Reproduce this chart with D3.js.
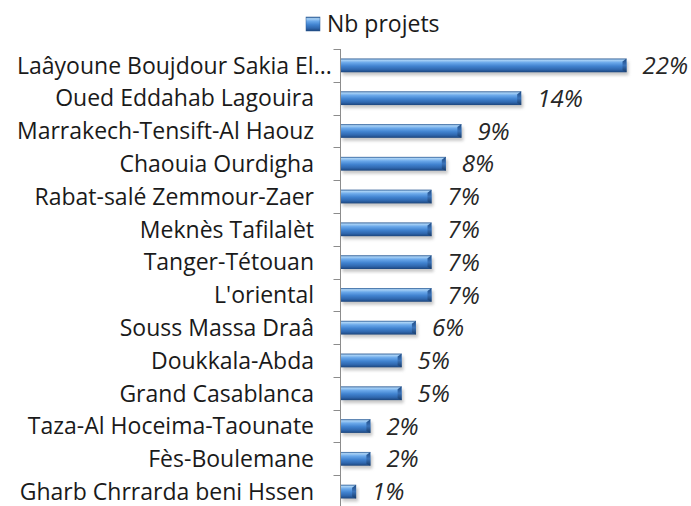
<!DOCTYPE html>
<html lang="fr">
<head>
<meta charset="UTF-8">
<script src="https://cdn.jsdelivr.net/npm/d3@7"></script>
<title>Nb projets</title>
<style>
    body { margin: 0; background: #fff; }
    text { font-family: "Open Sans", Lato, sans-serif; }
</style>
</head>
<body>
<div id="chart"></div>
<script>
// ---------- data ----------
const regions = [
    "Laâyoune Boujdour Sakia El...",
    "Oued Eddahab Lagouira",
    "Marrakech-Tensift-Al Haouz",
    "Chaouia Ourdigha",
    "Rabat-salé Zemmour-Zaer",
    "Meknès Tafilalèt",
    "Tanger-Tétouan",
    "L'oriental",
    "Souss Massa Draâ",
    "Doukkala-Abda",
    "Grand Casablanca",
    "Taza-Al Hoceima-Taounate",
    "Fès-Boulemane",
    "Gharb Chrrarda beni Hssen"
];
const nbProjets = [0.22, 0.139, 0.093, 0.081, 0.07, 0.07, 0.07, 0.07, 0.058, 0.047, 0.047, 0.023, 0.023, 0.012];
const seriesName = "Nb projets";

const W = 691, H = 506;
const axisX = 340.5;
const labelRight = 314;   // right edge of category labels
const labelMinLeft = 17;  // labels never start left of this

const svg = d3.select("#chart").append("svg")
    .attr("width", W)
    .attr("height", H);

// gradients for the "cylinder" look
const defs = svg.append("defs");
const grad = defs.append("linearGradient")
    .attr("id", "barGrad")
    .attr("x1", 0).attr("y1", 0).attr("x2", 0).attr("y2", 1);
[["0%", "#2b5a93"], ["12%", "#a9d2f6"], ["30%", "#6aa8ea"], ["55%", "#4183d0"],
 ["80%", "#2f67ae"], ["100%", "#1c457c"]].forEach(s => {
    grad.append("stop").attr("offset", s[0]).attr("stop-color", s[1]);
});
const capGrad = defs.append("linearGradient")
    .attr("id", "capGrad")
    .attr("x1", 0).attr("y1", 0).attr("x2", 0).attr("y2", 1);
[["0%", "#1f4a82"], ["50%", "#3a72b8"], ["100%", "#163a68"]].forEach(s => {
    capGrad.append("stop").attr("offset", s[0]).attr("stop-color", s[1]);
});
const blur = defs.append("filter").attr("id", "shadow")
    .attr("x", "-10%").attr("y", "-50%").attr("width", "120%").attr("height", "200%");
blur.append("feGaussianBlur").attr("stdDeviation", 1.6);

// ---------- scales ----------
const x = d3.scaleLinear()
    .domain([0, 0.25])
    .range([axisX, axisX + 325]);

const y = d3.scaleBand()
    .domain(regions)
    .range([49, 508])
    .paddingInner(0.58)
    .paddingOuter(0.29);

const yEdge = d3.scaleBand()
    .domain(regions)
    .range([49, 508]);

// ---------- axis ----------
svg.append("line")
    .attr("x1", axisX).attr("x2", axisX)
    .attr("y1", 49).attr("y2", H)
    .attr("stroke", "#8c8c8c");

svg.selectAll(".tick")
    .data(regions)
    .enter()
    .append("line")
    .attr("x1", axisX - 7).attr("x2", axisX)
    .attr("y1", d => Math.round(yEdge(d)) + 0.5)
    .attr("y2", d => Math.round(yEdge(d)) + 0.5)
    .attr("stroke", "#8c8c8c");

svg.selectAll(".cat")
    .data(regions)
    .enter()
    .append("text")
    .attr("x", labelRight)
    .attr("y", d => y(d) + y.bandwidth() / 2)
    .attr("dy", "0.36em")
    .attr("text-anchor", "end")
    .attr("font-size", 23)
    .attr("fill", "#1a1a1a")
    .text(d => d)
    .attr("x", function () {
        // a too-long label slides right instead of leaving the picture
        const len = this.getComputedTextLength();
        return Math.max(labelRight, labelMinLeft + len);
    });

// ---------- bars ----------
const rows = regions.map((r, i) => ({ region: r, value: nbProjets[i] }));

const bar = svg.selectAll(".bar")
    .data(rows)
    .enter()
    .append("g");

bar.append("rect")
    .attr("x", axisX + 2)
    .attr("y", d => y(d.region) + 3)
    .attr("width", d => x(d.value) - axisX)
    .attr("height", y.bandwidth())
    .attr("fill", "#9a9a9a")
    .attr("opacity", 0.55)
    .attr("filter", "url(#shadow)");

bar.append("rect")
    .attr("x", axisX + 0.5)
    .attr("y", d => y(d.region))
    .attr("width", d => x(d.value) - axisX - 0.5)
    .attr("height", y.bandwidth())
    .attr("fill", "url(#barGrad)");

// bevelled right end
bar.append("path")
    .attr("d", d => {
        const xe = x(d.value), y0 = y(d.region), h = y.bandwidth();
        return `M${xe - 4},${y0 + 3} L${xe},${y0} L${xe},${y0 + h} L${xe - 4},${y0 + h - 2} Z`;
    })
    .attr("fill", "url(#capGrad)");

bar.append("text")
    .attr("x", d => x(d.value) + 16)
    .attr("y", d => y(d.region) + y.bandwidth() / 2)
    .attr("dy", "0.36em")
    .attr("font-size", 24)
    .attr("font-style", "italic")
    .attr("fill", "#262626")
    .text(d => d3.format(".0%")(d.value));

// ---------- legend ----------
const legend = svg.append("g");
legend.append("rect")
    .attr("x", 306).attr("y", 17)
    .attr("width", 14).attr("height", 14)
    .attr("fill", "url(#barGrad)")
    .attr("stroke", "#2b5a93")
    .attr("stroke-width", 0.5);
legend.append("text")
    .attr("x", 327).attr("y", 32)
    .attr("font-size", 23)
    .attr("fill", "#1a1a1a")
    .text(seriesName);
</script>
</body>
</html>
